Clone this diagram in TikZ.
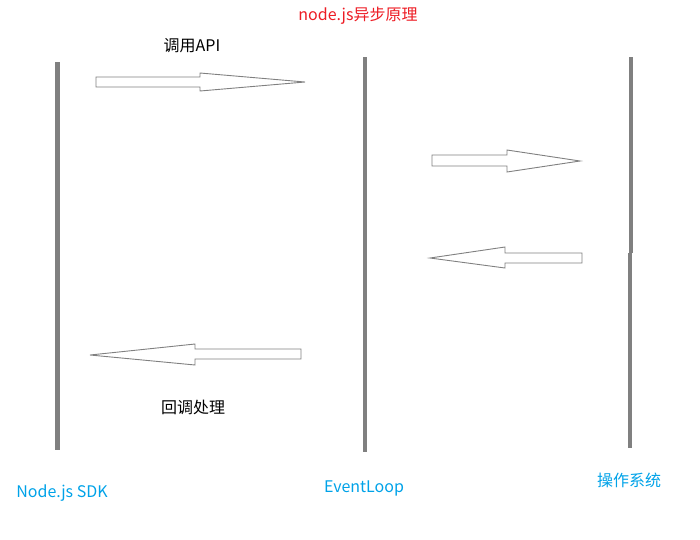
\documentclass[tikz,border=0pt]{standalone}
\usepackage{fontspec}
\newfontfamily\cjk{Noto Sans CJK SC}
\definecolor{lifegray}{RGB}{128,128,128}
\definecolor{titlered}{RGB}{237,28,36}
\definecolor{labelblue}{RGB}{0,162,232}
\tikzset{
	lifeline/.style={line width=4.8pt, color=lifegray},
	blockarrow/.style={draw=lifegray, line width=.9pt, fill=white},
	lbl/.style={font=\cjk\fontsize{16}{19}\selectfont, inner sep=0pt},
}
\begin{document}
\begin{tikzpicture}[x=1pt,y=-1pt]
	\useasboundingbox (0,0) rectangle (700,539);
	% lifelines
	\draw [lifeline] (57.5,62) -- (57.5,450);
	\draw [lifeline] (365,57) -- (365,452);
	\draw [lifeline] (631,57) -- (631,253);
	\draw [lifeline] (630,252.5) -- (630,448);
	% call API
	\draw [blockarrow] (96,77) -- (200,77) -- (200,73) -- (305,82) -- (200,91) -- (200,87) -- (96,87) -- cycle;
	% to the OS and back
	\draw [blockarrow] (432,155) -- (507,155) -- (507,150) -- (580,161) -- (507,172) -- (507,166) -- (432,166) -- cycle;
	\draw [blockarrow] (582,253) -- (505,253) -- (505,247) -- (430,258) -- (505,268) -- (505,263) -- (582,263) -- cycle;
	% callback
	\draw [blockarrow] (301,349) -- (195,349) -- (195,344) -- (90,355) -- (195,365) -- (195,359) -- (301,359) -- cycle;
	% texts
	\node [lbl, text=titlered] (title) at (358,16) {node.js异步原理};
	\node [lbl] (call) at (192,46) {调用API};
	\node [lbl] (back) at (193,407) {回调处理};
	\node [lbl, text=labelblue] (sdk) at (62,493) {Node.js SDK};
	\node [lbl, text=labelblue] (loop) at (364,488) {EventLoop};
	\node [lbl, text=labelblue] (os) at (629,480) {操作系统};
\end{tikzpicture}
\end{document}
